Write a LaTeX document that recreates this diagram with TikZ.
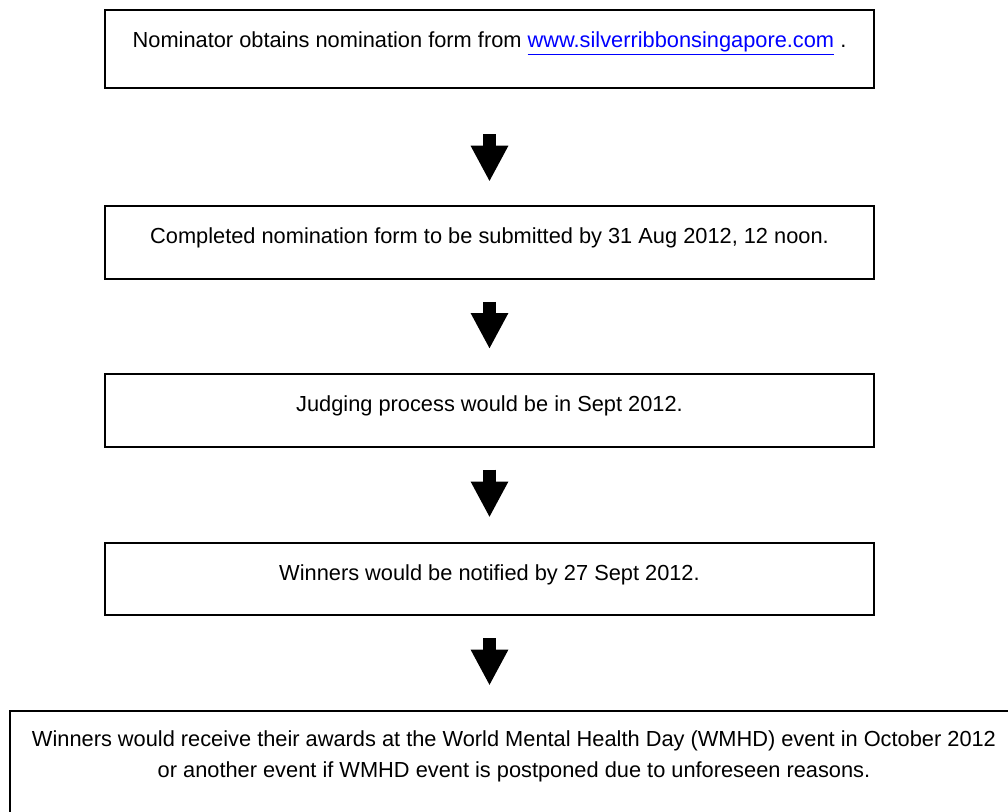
\documentclass[tikz,border=0pt]{standalone}
\usepackage{fontspec}
\setmainfont{Liberation Sans}
\usetikzlibrary{arrows.meta}
\begin{document}
\begin{tikzpicture}[x=0.5pt,y=-0.5pt,
		stepbox/.style={draw, line width=1pt, rectangle, anchor=north, inner ysep=0pt, text height=18.75pt, text depth=17.5pt, font=\fontsize{10.9pt}{15.5pt}\selectfont},
		flowarrow/.style={line width=6.5pt, -{Triangle[width=17.5pt,length=18pt]}, shorten <=11pt, shorten >=12pt}]
				\useasboundingbox (0,0) rectangle (1008,811);
				\node[stepbox, minimum width=384.5pt, text depth=20pt] (obtain) at (489.5,9) {Nominator obtains nomination form from {\color{blue}\underline{www.silverribbonsingapore.com}} .};
				\node[stepbox, minimum width=384.5pt] (submit) at (489.5,205.3) {Completed nomination form to be submitted by 31 Aug 2012, 12 noon.};
				\node[stepbox, minimum width=384.5pt] (judge) at (489.5,373) {Judging process would be in Sept 2012.};
				\node[stepbox, minimum width=384.5pt] (notify) at (489.5,541.5) {Winners would be notified by 27 Sept 2012.};
				\node[stepbox, minimum width=504.4pt, text height=33.2pt, text depth=40pt, align=center] (award) at (514,709.6) {Winners would receive their awards at the World Mental Health Day (WMHD) event in October 2012\\or another event if WMHD event is postponed due to unforeseen reasons.};
				\draw[flowarrow, shorten <=22.8pt, shorten >=11.8pt] (obtain.south) -- (submit.north);
				\draw[flowarrow] (submit.south) -- (judge.north);
				\draw[flowarrow] (judge.south) -- (notify.north);
				\draw[flowarrow] (notify.south) -- (award.north -| notify.south);
			\end{tikzpicture}
\end{document}
